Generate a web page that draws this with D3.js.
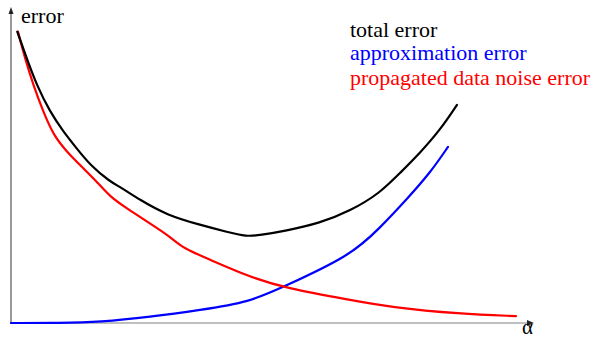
<!DOCTYPE html>
<html><head><meta charset="utf-8">
<script src="https://cdn.jsdelivr.net/npm/d3@7/dist/d3.min.js"></script>
<style>html,body{margin:0;padding:0;background:#fff;}svg{display:block;}
text{font-family:"Liberation Serif","DejaVu Serif",serif;}</style>
</head><body>
<svg id="c" width="597" height="339"></svg>
<script>
// alpha (0..1) and error (0..1)
const totalX = [0.0121,0.0303,0.0495,0.0751,0.1008,0.1266,0.1522,0.1908,0.2100,0.2486,0.3000,0.3642,0.4156,0.4541,0.4798,0.528,0.5954,0.6532,0.7110,0.7495,0.7881,0.8266,0.8593];
const totalY = [0.971,0.882,0.793,0.704,0.638,0.582,0.527,0.471,0.454,0.410,0.360,0.327,0.304,0.288,0.293,0.307,0.333,0.373,0.433,0.500,0.567,0.643,0.727];
const approxX = [0.0,0.0944,0.1715,0.2678,0.3642,0.4605,0.5241,0.6532,0.7110,0.7649,0.8073,0.8420];
const approxY = [0.0,0.0,0.003,0.020,0.043,0.070,0.120,0.223,0.317,0.417,0.500,0.587];
const noiseX = [0.0135,0.0270,0.0430,0.0622,0.0815,0.1073,0.1393,0.1682,0.1908,0.2229,0.2678,0.3064,0.3320,0.3771,0.4605,0.528,0.6532,0.7303,0.8651,0.9730];
const noiseY = [0.971,0.882,0.793,0.704,0.627,0.571,0.516,0.466,0.421,0.382,0.332,0.288,0.249,0.216,0.153,0.117,0.077,0.053,0.030,0.023];
const legendLabels = ["total error","approximation error","propagated data noise error"];
const axisLabels = ["error","\u03b1"];

const svg = d3.select("#c");
const x = d3.scaleLinear().domain([0,1]).range([11,530]);
const y = d3.scaleLinear().domain([0,1]).range([323,23]);

// axes
svg.append("line").attr("x1",x(0)-1).attr("x2",x(1)+2).attr("y1",y(0)).attr("y2",y(0))
  .attr("stroke","#aaa").attr("stroke-width",1.5);
svg.append("path").attr("d",`M${x(1)+4},${y(0)} l-7,-3 l0,6 z`).attr("fill","#222");
svg.append("line").attr("x1",x(0)).attr("x2",x(0)).attr("y1",y(0)).attr("y2",10)
  .attr("stroke","#555").attr("stroke-width",1.2);
svg.append("path").attr("d",`M${x(0)},7 l-2.5,7 l5,0 z`).attr("fill","#222");

const line = d3.line().x(d=>x(d[0])).y(d=>y(d[1])).curve(d3.curveBasis);
const series = [
  {xs: approxX, ys: approxY, color: "#0000ff"},
  {xs: noiseX, ys: noiseY, color: "#ff0000"},
  {xs: totalX, ys: totalY, color: "#000000"}
];
series.forEach(s=>{
  svg.append("path").datum(d3.zip(s.xs,s.ys)).attr("d",line)
    .attr("fill","none").attr("stroke",s.color).attr("stroke-width",2.2)
    .attr("stroke-linejoin","round").attr("stroke-linecap","round");
});

svg.append("text").attr("x",21).attr("y",23).text(axisLabels[0])
  .attr("font-size",22).attr("fill","#000");
svg.append("text").attr("x",522).attr("y",334).text(axisLabels[1])
  .attr("font-size",21).attr("fill","#000");

const legColors = ["#000000","#0000ff","#ff0000"];
const legY = [37,60,85];
legendLabels.forEach((t,i)=>{
  svg.append("text").attr("x",350).attr("y",legY[i]).text(t)
    .attr("font-size",22).attr("fill",legColors[i]);
});
</script>
</body></html>
